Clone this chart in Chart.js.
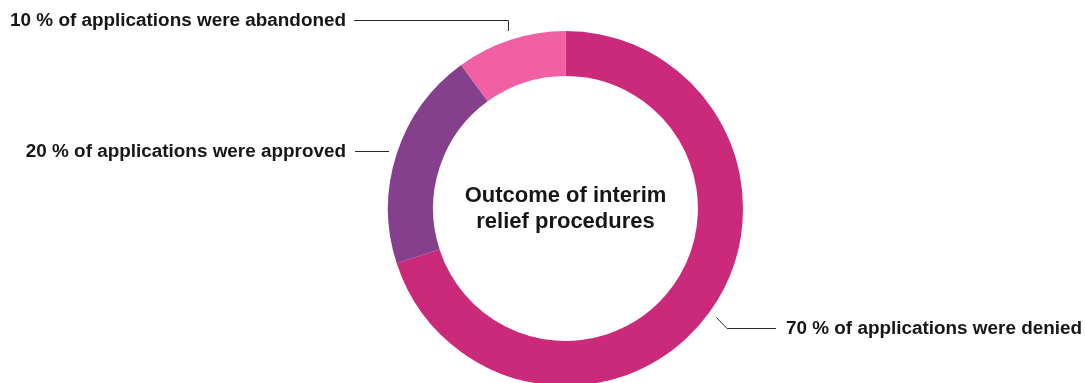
<!DOCTYPE html>
<html>
<head>
<meta charset="utf-8">
<script src="https://cdn.jsdelivr.net/npm/chart.js@4"></script>
<style>
  html, body { margin: 0; padding: 0; background: #fff; overflow: hidden; }
  #wrap { position: absolute; left: 0; top: 0; width: 1085px; height: 390px; }
</style>
</head>
<body>
<div id="wrap"><canvas id="outcome" width="1085" height="390"></canvas></div>
<script>
// outcome of interim relief procedures, shares in %
const categories = ["denied", "approved", "abandoned"];
const shares = [70, 20, 10];
const labelTexts = [
  "70 % of applications were denied",
  "20 % of applications were approved",
  "10 % of applications were abandoned"
];
const colors = ["#cb2a7b", "#85408d", "#f15fa5"];
const centerTitle = ["Outcome of interim", "relief procedures"];

const TEXT = "#161616";
const LINE = "#2a2a2a";

// snap to pixel centre so 1px lines stay crisp
const px = v => Math.floor(v) + 0.5;

// leader lines + labels, placed relative to the ring centre / radius
const calloutPlugin = {
  id: "callouts",
  afterDatasetsDraw(chart) {
    const ctx = chart.ctx;
    const arcs = chart.getDatasetMeta(0).data;
    const cx = arcs[0].x, cy = arcs[0].y, r = arcs[0].outerRadius;
    ctx.save();
    ctx.strokeStyle = LINE;
    ctx.lineWidth = 1;
    ctx.fillStyle = TEXT;
    ctx.font = "bold 18.9px 'Liberation Sans', Arial, sans-serif";
    ctx.textBaseline = "middle";

    // denied (right bottom)
    let y = px(cy + 120);
    ctx.beginPath();
    ctx.moveTo(cx + 151, cy + 109);
    ctx.lineTo(cx + 161.5, y);
    ctx.lineTo(cx + 210.5, y);
    ctx.stroke();
    ctx.textAlign = "left";
    ctx.fillText(labelTexts[0], cx + 220.5, y + 0.5);

    // approved (left)
    y = px(cy - 57.5);
    ctx.beginPath();
    ctx.moveTo(cx - r + 1, y);
    ctx.lineTo(cx - r - 33, y);
    ctx.stroke();
    ctx.textAlign = "right";
    ctx.fillText(labelTexts[1], cx - r - 42, y + 0.5);

    // abandoned (top left)
    y = px(cy - r - 11);
    const vx = px(cx - 57.5);
    ctx.beginPath();
    ctx.moveTo(vx, cy - r);
    ctx.lineTo(vx, y);
    ctx.lineTo(cx - 211.5, y);
    ctx.stroke();
    ctx.fillText(labelTexts[2], cx - 219.5, y + 0.5);

    // centre title
    ctx.textAlign = "center";
    ctx.font = "bold 22px 'Liberation Sans', Arial, sans-serif";
    ctx.fillText(centerTitle[0], cx, cy - 13);
    ctx.fillText(centerTitle[1], cx, cy + 13.5);
    ctx.restore();
  }
};

new Chart(document.getElementById("outcome"), {
  type: "doughnut",
  data: {
    labels: categories,
    datasets: [{ data: shares, backgroundColor: colors, borderWidth: 0, hoverOffset: 0 }]
  },
  options: {
    responsive: false,
    animation: false,
    cutout: "74.6%",
    layout: { padding: { top: 31, bottom: 4, left: 46, right: 0 } },
    plugins: { legend: { display: false }, tooltip: { enabled: false } },
    events: []
  },
  plugins: [calloutPlugin]
});
</script>
</body>
</html>
